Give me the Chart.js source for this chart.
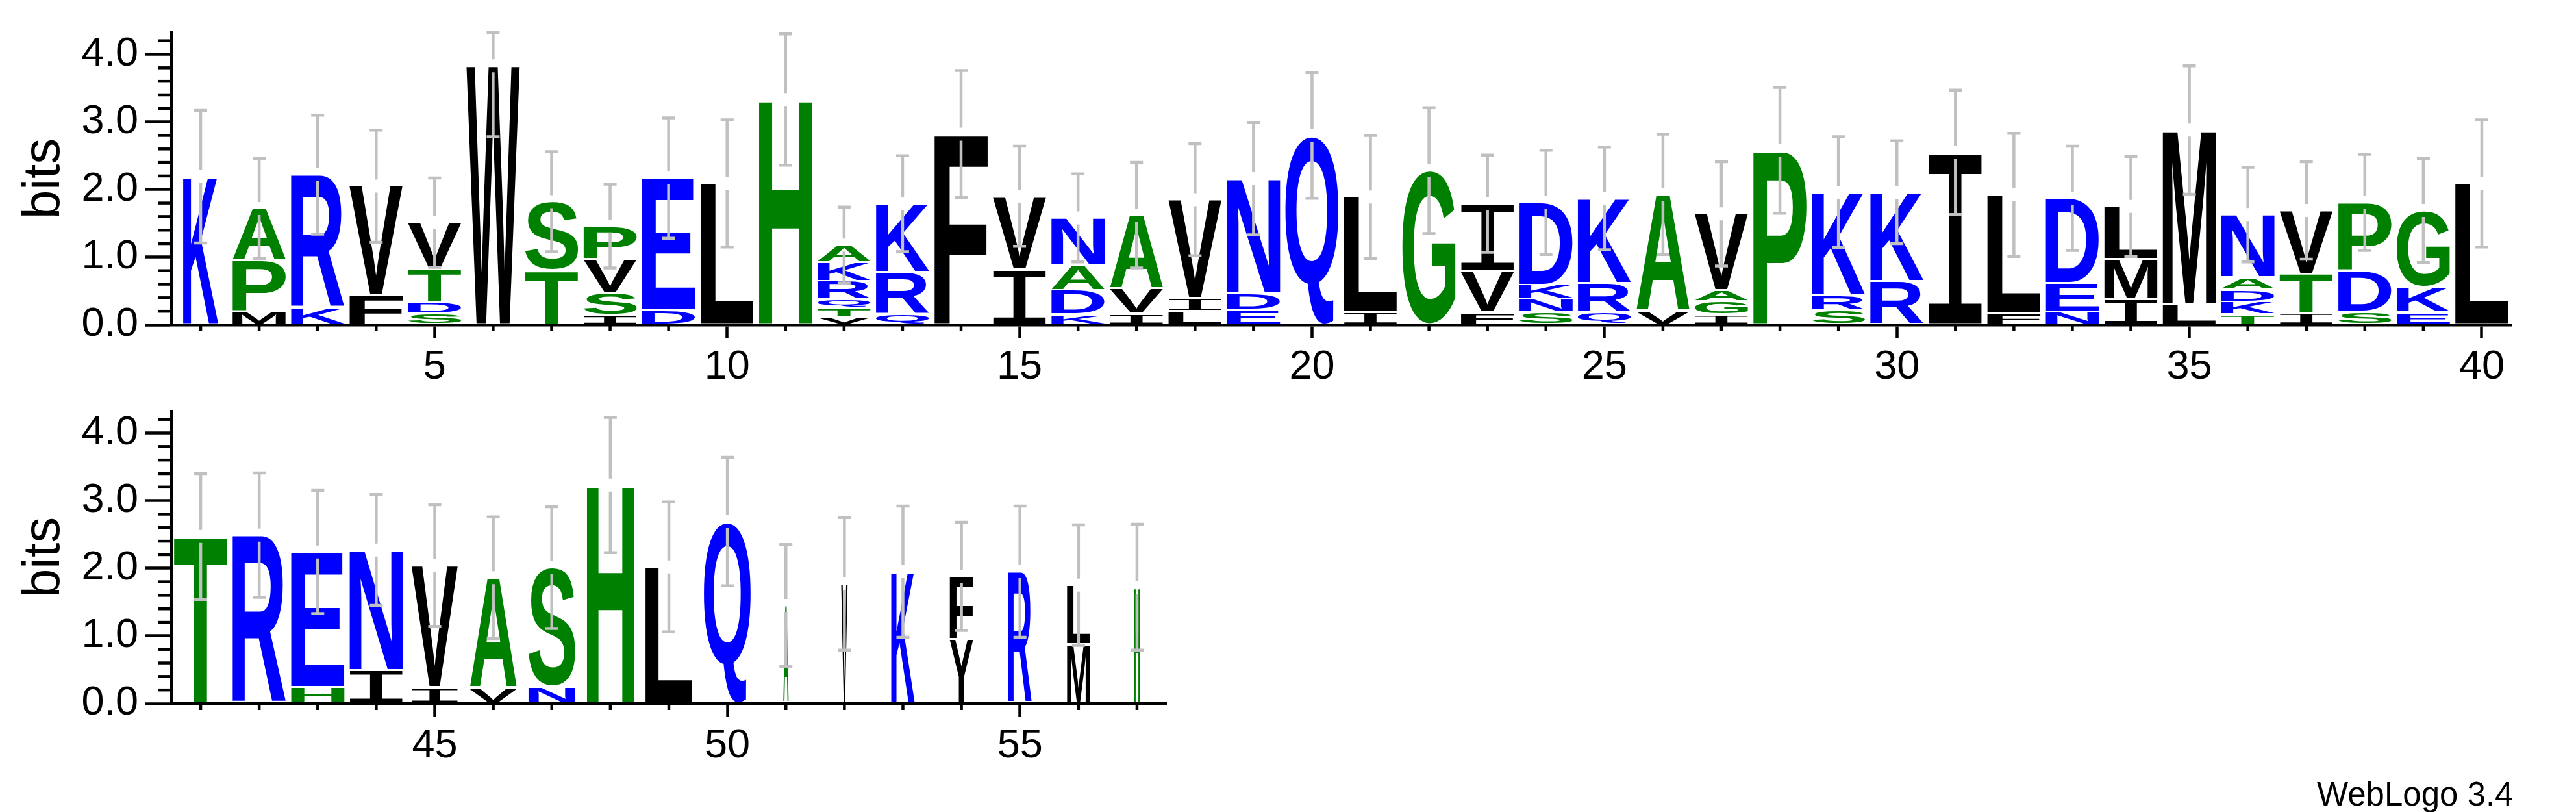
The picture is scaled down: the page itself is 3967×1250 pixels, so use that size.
<!DOCTYPE html>
<html>
<head>
<meta charset="utf-8">
<title>Sequence logo</title>
<script src="https://cdn.jsdelivr.net/npm/chart.js@4.4.1/dist/chart.umd.min.js"></script>
<style>
    html, body { margin: 0; padding: 0; background: #fff; }
    #page { position: relative; width: 3967px; height: 1250px; overflow: hidden; background: #fff; }
    canvas { position: absolute; }
    #credit {
        position: absolute; left: 3568px; top: 1197px;
        font: 51px "Liberation Sans", Arial, sans-serif; line-height: 1;
        color: #000; white-space: nowrap;
    }
</style>
</head>
<body>
<div id="page">
    <canvas id="logo-top" width="3967" height="620" style="left:0;top:0;width:3967px;height:620px"></canvas>
    <canvas id="logo-bottom" width="1900" height="620" style="left:0;top:583px;width:1900px;height:620px"></canvas>
    <div id="credit">WebLogo 3.4</div>
</div>
<script>
// sequence positions (x categories)
const positions = [
    1, 2, 3, 4, 5, 6, 7, 8, 9, 10, 11, 12, 13, 14, 15, 16, 17, 18, 19, 20,
    21, 22, 23, 24, 25, 26, 27, 28, 29, 30, 31, 32, 33, 34, 35, 36, 37, 38, 39, 40,
    41, 42, 43, 44, 45, 46, 47, 48, 49, 50, 51, 52, 53, 54, 55, 56, 57
];

// residues of each column, bottom to top
const stackLetters = [
    'K', 'MPA', 'KR', 'FV', 'SDTV', 'W', 'TS', 'ISVP', 'DE', 'L',
    'H', 'VTQRKA', 'QRK', 'F', 'IV', 'KDAN', 'IVA', 'LIV', 'EDN', 'Q',
    'IL', 'G', 'FVI', 'SNKD', 'QRK', 'VA', 'IGAV', 'P', 'SRK', 'RK',
    'I', 'FL', 'NED', 'IML', 'LM', 'TKDAN', 'ITV', 'SDP', 'EKG', 'L',
    'T', 'R', 'HE', 'IN', 'IV', 'VA', 'NS', 'H', 'L', 'Q',
    'A', 'V', 'K', 'YF', 'R', 'ML', 'H'
];

// height of each residue in bits, same order as stackLetters
const stackHeights = [
    [2.19], [0.19, 0.76, 0.77], [0.25, 1.97], [0.44, 1.61], [0.16, 0.17, 0.50, 0.68],
    [3.83], [0.80, 1.02], [0.14, 0.33, 0.50, 0.49], [0.22, 1.95], [2.09],
    [3.33], [0.12, 0.13, 0.12, 0.27, 0.28, 0.26], [0.16, 0.62, 1.01], [2.82], [0.82, 1.08],
    [0.15, 0.36, 0.36, 0.71], [0.16, 0.37, 1.09], [0.20, 0.19, 1.46], [0.22, 0.24, 1.70], [2.80],
    [0.19, 1.70], [2.28], [0.18, 0.61, 1.00], [0.18, 0.20, 0.21, 1.22], [0.18, 0.43, 1.26],
    [0.21, 1.72], [0.15, 0.19, 0.17, 1.13], [2.58], [0.21, 0.22, 1.53], [0.64, 1.32],
    [2.55], [0.17, 1.75], [0.19, 0.42, 1.26], [0.37, 0.60, 0.78], [0.30, 2.58],
    [0.15, 0.19, 0.18, 0.18, 0.93], [0.17, 0.58, 0.94], [0.19, 0.61, 1.01], [0.18, 0.38, 1.13], [2.09],
    [2.47], [2.49], [0.24, 2.00], [0.49, 1.78], [0.24, 1.80],
    [0.23, 1.63], [0.24, 1.77], [3.23], [2.02], [2.69],
    [1.45], [1.77], [1.95], [0.95, 0.93], [1.95], [0.87, 0.88], [1.72]
];

// error bar half-length in bits
const errorBits = [
    0.98, 0.74, 0.88, 0.83, 0.66, 1.05, 0.74, 0.62, 0.89, 0.94,
    0.97, 0.56, 0.71, 0.94, 0.74, 0.65, 0.78, 0.83, 0.83, 0.93,
    0.91, 0.93, 0.72, 0.77, 0.76, 0.89, 0.77, 0.93, 0.82, 0.76,
    0.92, 0.91, 0.77, 0.74, 0.95, 0.70, 0.72, 0.71, 0.77, 0.94,
    0.93, 0.92, 0.91, 0.82, 0.90, 0.90, 0.90, 1.00, 0.96, 0.95,
    0.90, 0.98, 0.97, 0.80, 0.97, 0.89, 0.93
];

// fraction of sequences present in each column (sets stack width)
const occupancy = [
    0.66, 1, 1, 1, 1, 1, 1, 1, 1, 1,
    1, 1, 1, 1, 1, 1, 1, 1, 1, 1,
    1, 1, 1, 1, 1, 1, 1, 1, 1, 1,
    1, 1, 1, 1, 1, 1, 1, 1, 1, 1,
    1, 1, 1, 1, 0.87, 0.88, 0.88, 0.88, 0.88, 0.88,
    0.10, 0.12, 0.44, 0.44, 0.44, 0.43, 0.10
];

const yTickLabels = ['0.0', '1.0', '2.0', '3.0', '4.0'];

const YMAX = Math.log2(20);
const FONT = '"Liberation Sans", Arial, sans-serif';
const residueColours = {
    K: '#0000ff', R: '#0000ff', D: '#0000ff', E: '#0000ff', N: '#0000ff', Q: '#0000ff',
    S: '#008000', G: '#008000', H: '#008000', T: '#008000', A: '#008000', P: '#008000',
    Y: '#000000', V: '#000000', M: '#000000', C: '#000000', L: '#000000', F: '#000000', I: '#000000', W: '#000000'
};

Chart.defaults.font.family = FONT;
Chart.defaults.color = '#000';

const totals = stackHeights.map(h => h.reduce((a, b) => a + b, 0));
const isMajor = v => Math.abs(v - Math.round(v)) < 1e-6;

// stretch one glyph so its ink fills the box
const drawGlyph = (ctx, ch, x, y, w, h) => {
    if (w <= 0 || h <= 1) return;
    ctx.save();
    // the logo's I carries serifs, so take it from a monospace face
    ctx.font = ch === 'I' ? '200px "Liberation Mono"' : 'bold 200px "Liberation Sans"';
    ctx.textAlign = 'left';
    ctx.textBaseline = 'alphabetic';
    const m = ctx.measureText(ch);
    const inkW = m.actualBoundingBoxLeft + m.actualBoundingBoxRight;
    const inkH = m.actualBoundingBoxAscent + m.actualBoundingBoxDescent;
    ctx.translate(x, y);
    ctx.scale(w / inkW, h / inkH);
    ctx.fillStyle = residueColours[ch] || '#000';
    ctx.fillText(ch, m.actualBoundingBoxLeft, m.actualBoundingBoxAscent);
    ctx.restore();
};

const logoLetters = {
    id: 'logoLetters',
    afterDatasetsDraw(chart) {
        const ctx = chart.ctx;
        const from = chart.options.plugins.logoLetters.from;
        chart.data.datasets.forEach((ds, k) => {
            chart.getDatasetMeta(k).data.forEach((bar, i) => {
                const ch = stackLetters[from + i][k];
                if (!ch) return;
                const p = bar.getProps(['x', 'y', 'base', 'width'], true);
                const w = p.width * occupancy[from + i];
                const top = p.y + 1;
                const h = (p.base - 2) - top;
                drawGlyph(ctx, ch, p.x - w / 2, top, w, h);
            });
        });

        // error bars
        const yS = chart.scales.y;
        const xS = chart.scales.x;
        ctx.save();
        ctx.strokeStyle = '#c0c0c0';
        ctx.lineWidth = 4.5;
        ctx.lineCap = 'butt';
        chart.data.labels.forEach((lab, i) => {
            const n = from + i;
            const x = xS.getPixelForTick(i);
            const pTop = yS.getPixelForValue(totals[n]);
            const pHi = yS.getPixelForValue(Math.min(YMAX, totals[n] + errorBits[n]));
            const pLo = yS.getPixelForValue(Math.max(0, totals[n] - errorBits[n]));
            ctx.beginPath();
            ctx.moveTo(x, pHi); ctx.lineTo(x, pTop - 10);
            ctx.moveTo(x, pTop + 10); ctx.lineTo(x, pLo);
            ctx.moveTo(x - 10, pHi); ctx.lineTo(x + 10, pHi);
            ctx.moveTo(x - 10, pLo); ctx.lineTo(x + 10, pLo);
            ctx.stroke();
        });
        ctx.restore();
    }
};

// short ticks between the labelled ones
const minorTicks = {
    id: 'minorTicks',
    afterDraw(chart) {
        const ctx = chart.ctx;
        const yS = chart.scales.y;
        const xS = chart.scales.x;
        const labels = chart.data.labels;
        ctx.save();
        ctx.strokeStyle = '#000';
        ctx.lineWidth = 4.5;
        yS.ticks.forEach(t => {
            if (isMajor(t.value)) return;
            const p = yS.getPixelForValue(t.value);
            ctx.beginPath();
            ctx.moveTo(yS.right - 21, p);
            ctx.lineTo(yS.right, p);
            ctx.stroke();
        });
        labels.forEach((lab, i) => {
            if (Number(lab) % 5 === 0) return;
            const p = xS.getPixelForTick(i);
            ctx.beginPath();
            ctx.moveTo(p, xS.top);
            ctx.lineTo(p, xS.top + 10);
            ctx.stroke();
        });
        ctx.restore();
    }
};

const buildLogo = (canvasId, from, to, padRight) => {
    const cols = positions.slice(from, to);
    const layers = [];
    for (let k = 0; k < 6; k++) {
        layers.push({
            label: 'rank ' + (k + 1),
            data: stackHeights.slice(from, to).map(h => h[k] || 0),
            backgroundColor: 'rgba(0,0,0,0)',
            borderWidth: 0,
            barPercentage: 0.911,
            categoryPercentage: 1.0
        });
    }

    return new Chart(document.getElementById(canvasId), {
        type: 'bar',
        data: { labels: cols.map(String), datasets: layers },
        options: {
            responsive: false,
            animation: false,
            devicePixelRatio: 1,
            layout: { padding: { top: 50, right: padRight, left: 0, bottom: 0 } },
            plugins: {
                legend: { display: false },
                tooltip: { enabled: false },
                logoLetters: { from: from }
            },
            scales: {
                x: {
                    stacked: true,
                    grid: {
                        offset: false,
                        drawOnChartArea: false,
                        tickLength: 20,
                        tickWidth: 4.5,
                        tickColor: c => (cols[c.index] % 5 === 0 ? '#000' : 'rgba(0,0,0,0)')
                    },
                    border: { color: '#000', width: 4.5 },
                    ticks: {
                        autoSkip: false,
                        maxRotation: 0,
                        padding: 8,
                        color: '#000',
                        font: { size: 63 },
                        callback: (v, i) => (cols[i] % 5 === 0 ? String(cols[i]) : '')
                    },
                    afterFit: s => { s.height = 120; }
                },
                y: {
                    stacked: true,
                    min: 0,
                    max: YMAX,
                    grid: {
                        drawOnChartArea: false,
                        tickLength: 41,
                        tickWidth: 4.5,
                        tickColor: c => (isMajor(c.tick.value) ? '#000' : 'rgba(0,0,0,0)')
                    },
                    border: { color: '#000', width: 4.5 },
                    ticks: {
                        stepSize: 0.2,
                        includeBounds: false,
                        autoSkip: false,
                        padding: 10,
                        color: '#000',
                        font: { size: 63 },
                        callback: v => (isMajor(v) ? yTickLabels[Math.round(v)] : '')
                    },
                    title: {
                        display: true,
                        text: 'bits',
                        color: '#000',
                        font: { size: 80 },
                        padding: { top: 21, bottom: 0 }
                    },
                    afterFit: s => { s.width = 264; }
                }
            }
        },
        plugins: [logoLetters, minorTicks]
    });
};

buildLogo('logo-top', 0, 40, 100);
buildLogo('logo-bottom', 40, 57, 104);
</script>
</body>
</html>
